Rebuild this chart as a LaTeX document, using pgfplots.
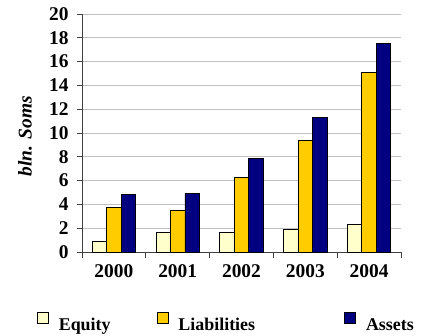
\documentclass[border=0pt]{standalone}
\usepackage{fontspec}
\setmainfont{Liberation Serif}
\usepackage{pgfplots}
\pgfplotsset{compat=1.18}
\definecolor{eqc}{HTML}{FFFFCC}
\definecolor{lic}{HTML}{FFCC00}
\definecolor{asc}{HTML}{000080}
\definecolor{gridc}{HTML}{C0C0C0}
\pgfplotsset{sqlegend/.style={legend image code/.code={\draw[#1, draw=black, line width=0.6pt] (0bp,-5.5bp) rectangle (11bp,5.5bp);}}}
\begin{document}
\begin{tikzpicture}
\path[use as bounding box] (-82bp,-84bp) rectangle (345bp,252bp);
\begin{axis}[
  at={(0,0)}, anchor=south west,
  scale only axis, width=319bp, height=238bp,
  xmin=-0.5, xmax=4.5, ymin=0, ymax=20,
  ybar=0pt, bar width=14.5bp,
  axis x line*=bottom, axis y line*=left,
  axis line style={-, draw=black!75, line width=0.8pt},
  xtick={0,1,2,3,4}, xticklabels={2000,2001,2002,2003,2004},
  major x tick style={draw=none},
  minor xtick={-0.5,0.5,1.5,2.5,3.5,4.5},
  minor x tick style={draw=black!75, line width=0.8pt},
  tick align=outside, major tick length=5bp, minor tick length=6bp,
  ytick={0,2,...,20},
  y tick style={draw=black!75, line width=0.8pt},
  ymajorgrids, grid style={gridc, line width=0.8pt},
  tick label style={font=\bfseries\fontsize{19.5}{19.5}\selectfont},
  xticklabel style={yshift=-4bp},
  yticklabel style={xshift=-5bp},
  /pgf/number format/assume math mode=true,
  ylabel={\bfseries\itshape bln. Soms},
  every axis y label/.style={at={(rel axis cs:0,0.487)}, xshift=-57bp, rotate=90, anchor=center, font=\fontsize{19.5}{19.5}\selectfont},
  legend columns=3,
  legend style={at={(-0.141,-0.275)}, anchor=west, draw=none, fill=none, inner sep=0pt,
    nodes={inner sep=0pt}, font=\bfseries\fontsize{18}{18}\selectfont,
    /tikz/every odd column/.append style={column sep=10bp},
    /tikz/every even column/.append style={text height=27bp, text depth=0pt}},
]
\addplot[fill=eqc, draw=black, line width=0.8pt, sqlegend] coordinates {(0,0.9) (1,1.63) (2,1.62) (3,1.9) (4,2.35)};
\addplot[fill=lic, draw=black, line width=0.8pt, sqlegend] coordinates {(0,3.76) (1,3.5) (2,6.24) (3,9.41) (4,15.07)};
\addplot[fill=asc, draw=black, line width=0.8pt, sqlegend] coordinates {(0,4.85) (1,4.93) (2,7.86) (3,11.28) (4,17.55)};
\addlegendentry{\makebox[98bp][l]{Equity}}
\addlegendentry{\makebox[166bp][l]{Liabilities}}
\addlegendentry{Assets}
\end{axis}
\end{tikzpicture}
\end{document}
